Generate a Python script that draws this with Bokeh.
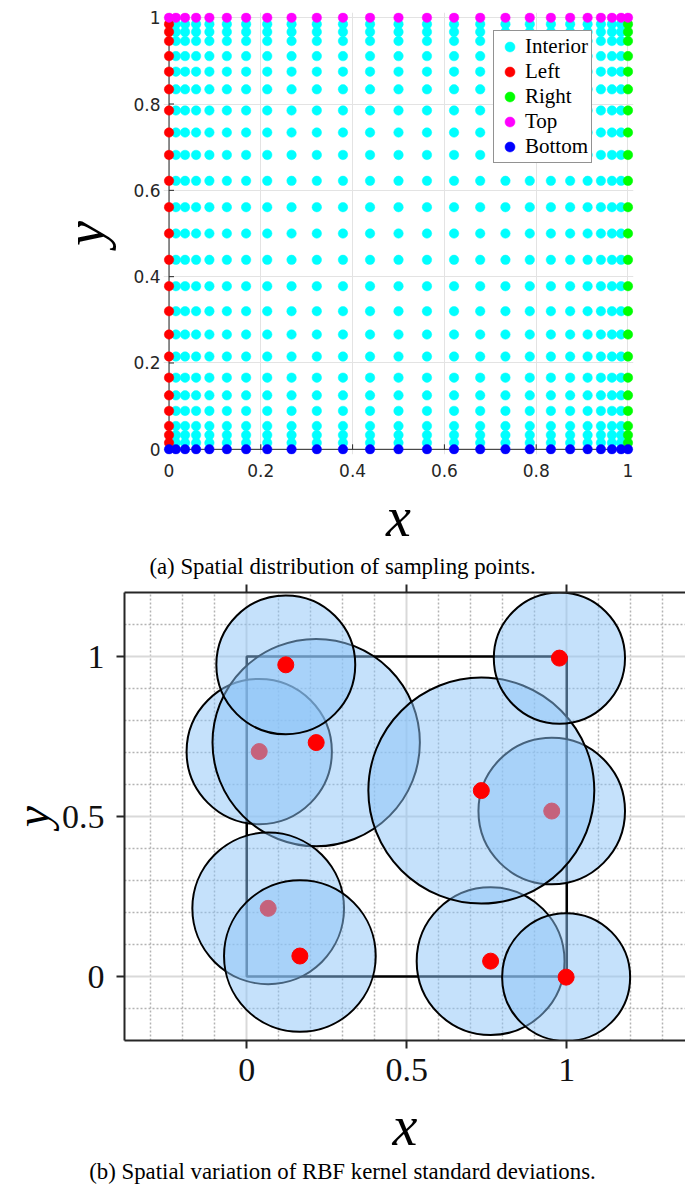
import numpy as np
from bokeh.plotting import figure
from bokeh.layouts import column
from bokeh.models import Range1d, FixedTicker, Legend, LegendItem, Div, LinearAxis
from bokeh.embed import file_html
from bokeh.resources import INLINE

# ---------------- panel (a): sampling grid ----------------
x_nodes = [0.0, 0.015, 0.035, 0.059, 0.088, 0.126, 0.168, 0.214, 0.267, 0.322, 0.379, 0.438, 0.5,
           0.562, 0.621, 0.678, 0.733, 0.786, 0.832, 0.874, 0.912, 0.941, 0.965, 0.985, 1.0]
y_nodes = [0.0, 0.015, 0.033, 0.054, 0.089, 0.125, 0.166, 0.215, 0.266, 0.320, 0.378, 0.439, 0.5,
           0.561, 0.622, 0.682, 0.734, 0.785, 0.834, 0.875, 0.911, 0.946, 0.967, 0.985, 1.0]
group_names = ["Interior", "Left", "Right", "Top", "Bottom"]
group_colors = ["#00FFFF", "#FF0000", "#00FF00", "#FF00FF", "#0000FF"]
a_ticks = [0, 0.2, 0.4, 0.6, 0.8, 1]
a_tick_labels = ["0", "0.2", "0.4", "0.6", "0.8", "1"]

# ---------------- panel (b): RBF centres and standard deviations (drawing order) ----------------
rbf_cx = [0.039, 0.217, 0.122, 0.067, 0.166, 0.762, 0.998, 0.953, 0.733, 0.977]
rbf_cy = [0.703, 0.731, 0.974, 0.213, 0.064, 0.048, -0.002, 0.517, 0.581, 0.995]
rbf_sigma = [0.227, 0.324, 0.217, 0.237, 0.237, 0.231, 0.200, 0.229, 0.353, 0.205]
domain_x = [0, 1]
domain_y = [0, 1]
b_ticks = [0, 0.5, 1]
b_tick_labels = ["0", "0.5", "1"]

captions = ["(a) Spatial distribution of sampling points.",
            "(b) Spatial variation of RBF kernel standard deviations."]

DARK = "#262626"

# ---------------- build groups ----------------
inner_x = x_nodes[1:-1]
inner_y = y_nodes[1:-1]
gx, gy = np.meshgrid(inner_x, inner_y)
groups = [
    (list(gx.ravel()), list(gy.ravel())),
    ([x_nodes[0]] * len(inner_y), inner_y),
    ([x_nodes[-1]] * len(inner_y), inner_y),
    (x_nodes, [y_nodes[-1]] * len(x_nodes)),
    (x_nodes, [y_nodes[0]] * len(x_nodes)),
]

# ---------------- figure (a) ----------------
pa = figure(title=None, output_backend="svg", toolbar_location=None,
            x_range=Range1d(-0.012, 1.012), y_range=Range1d(-0.012, 1.012),
            frame_width=470, frame_height=442,
            min_border_left=163, min_border_right=52, min_border_top=12, min_border_bottom=98)
pa.frame_align = False
pa.outline_line_color = None
ticker_a = FixedTicker(ticks=a_ticks)
ax_bottom_a = pa.below[0]
ax_left_a = pa.left[0]
for ax in (ax_bottom_a, ax_left_a):
    ax.ticker = ticker_a
    ax.major_label_overrides = {t: l for t, l in zip(a_ticks, a_tick_labels)}
    ax.axis_line_color = None
    ax.major_tick_line_color = None
    ax.minor_tick_line_color = None
    ax.major_tick_in = 0
    ax.major_tick_out = 0
    ax.major_label_text_font = "DejaVu Sans"
    ax.major_label_text_font_size = "17px"
    ax.major_label_text_color = DARK
    ax.axis_label_text_font = "Liberation Serif"
    ax.axis_label_text_font_style = "italic"
    ax.axis_label_text_font_size = "56px"
    ax.axis_label_text_color = "black"
ax_bottom_a.major_label_standoff = 9
ax_left_a.major_label_standoff = 3
ax_bottom_a.axis_label = "x"
ax_bottom_a.axis_label_standoff = 6
ax_left_a.axis_label = "y"
ax_left_a.axis_label_standoff = 14
for g in (pa.xgrid[0], pa.ygrid[0]):
    g.ticker = ticker_a
    g.grid_line_color = "#e3e3e3"
    g.grid_line_width = 1

# axis lines and inward ticks anchored at the data origin
tl_x = 5 / 458.5
tl_y = 5 / 431.6
pa.segment(x0=[a_ticks[0], a_ticks[0]], y0=[a_ticks[0], a_ticks[0]],
           x1=[a_ticks[-1], a_ticks[0]], y1=[a_ticks[0], a_ticks[-1]],
           line_color=DARK, line_width=1)
pa.segment(x0=a_ticks, y0=[0] * len(a_ticks), x1=a_ticks, y1=[tl_y] * len(a_ticks),
           line_color=DARK, line_width=1)
pa.segment(x0=[0] * len(a_ticks), y0=a_ticks, x1=[tl_x] * len(a_ticks), y1=a_ticks,
           line_color=DARK, line_width=1)

items = []
for name, col, (xs, ys) in zip(group_names, group_colors, groups):
    r = pa.scatter(x=list(xs), y=list(ys), size=9.5, marker="circle",
                   fill_color=col, line_color=col, line_width=0.5)
    items.append(LegendItem(label=name, renderers=[r]))

leg = Legend(items=items, location=(330, 291), orientation="vertical",
             padding=3, spacing=0, margin=0, glyph_width=25, glyph_height=25,
             label_height=25, label_standoff=3,
             label_text_font="Liberation Serif", label_text_font_size="21px",
             label_text_color="black", border_line_color=DARK, border_line_width=1,
             background_fill_color="white", background_fill_alpha=1.0)
pa.add_layout(leg, "center")

# ---------------- figure (b) ----------------
pb = figure(title=None, output_backend="svg", toolbar_location=None,
            x_range=Range1d(-0.382, 1.371), y_range=Range1d(-0.2, 1.2),
            frame_width=561, frame_height=448,
            min_border_left=124, min_border_right=0, min_border_top=10, min_border_bottom=120)
pb.frame_align = False
pb.outline_line_color = None
minor = [round(v, 1) for v in np.arange(-0.3, 1.35, 0.1)
         if all(abs(v - t) > 1e-6 for t in b_ticks)]
ticker_b = FixedTicker(ticks=b_ticks, minor_ticks=minor)

ax_bottom_b = pb.below[0]
ax_left_b = pb.left[0]
ax_top_b = LinearAxis()
pb.add_layout(ax_top_b, "above")
for ax in (ax_bottom_b, ax_left_b, ax_top_b):
    ax.ticker = ticker_b
    ax.axis_line_color = DARK
    ax.axis_line_width = 2
    ax.major_tick_line_color = DARK
    ax.major_tick_line_width = 2
    ax.major_tick_in = 0
    ax.major_tick_out = 8
    ax.minor_tick_line_color = None
    ax.major_label_text_font = "Liberation Serif"
    ax.major_label_text_font_size = "34px"
    ax.major_label_text_color = "#111111"
    ax.axis_label_text_font = "Liberation Serif"
    ax.axis_label_text_font_style = "italic"
    ax.axis_label_text_font_size = "56px"
    ax.axis_label_text_color = "black"
for ax in (ax_bottom_b, ax_left_b):
    ax.major_label_overrides = {t: l for t, l in zip(b_ticks, b_tick_labels)}
ax_top_b.major_label_overrides = {t: "" for t in b_ticks}
ax_top_b.major_label_text_font_size = "1px"
ax_top_b.major_label_standoff = 0
ax_bottom_b.major_label_standoff = 10
ax_left_b.major_label_standoff = 12
ax_bottom_b.axis_label = "x"
ax_bottom_b.axis_label_standoff = 11
ax_left_b.axis_label = "y"
ax_left_b.axis_label_standoff = 0
ax_left_b.axis_label_text_font_size = "48px"
for g in (pb.xgrid[0], pb.ygrid[0]):
    g.ticker = ticker_b
    g.grid_line_color = "#d9d9d9"
    g.grid_line_width = 2
    g.minor_grid_line_color = "#b3b3b3"
    g.minor_grid_line_width = 1.5
    g.minor_grid_line_dash = "2 2"

pb.quad(left=domain_x[0], right=domain_x[1], bottom=domain_y[0], top=domain_y[1],
        fill_color=None, line_color="black", line_width=2.5)

for cx, cy, s in zip(rbf_cx, rbf_cy, rbf_sigma):
    pb.circle(x=[cx], y=[cy], radius=s, fill_color="#8CC4F8", fill_alpha=0.5,
              line_color="black", line_width=2)
    pb.scatter(x=[cx], y=[cy], size=16, marker="circle", fill_color="red", line_color="red")

# ---------------- captions ----------------
cap_style = {"text-align": "center", "font-family": "Liberation Serif",
             "font-size": "22.8px", "color": "black", "white-space": "nowrap"}
div_a = Div(text=captions[0], width=685, height=30, margin=0,
            styles={**cap_style, "line-height": "30px"})
div_b = Div(text=captions[1], width=685, height=24, margin=0,
            styles={**cap_style, "line-height": "24px"})

layout = column(pa, div_a, pb, div_b, spacing=0)
open("out.html", "w").write(file_html(layout, INLINE, title="RBF sampling"))
